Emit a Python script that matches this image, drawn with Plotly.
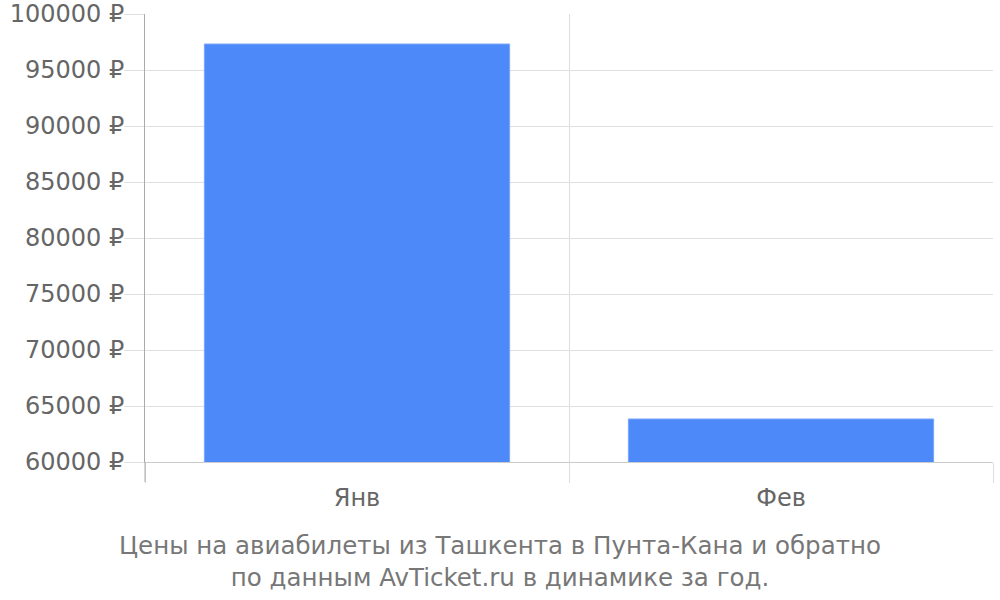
import plotly.graph_objects as go

months = ['Янв', 'Фев']
prices = [97320, 63840]
title_text = 'Цены на авиабилеты из Ташкента в Пунта-Кана и обратно<br>по данным AvTicket.ru в динамике за год.'

fig = go.Figure()

fig.add_trace(go.Bar(
    x=months,
    y=prices,
    width=0.72,
    marker=dict(color='#4d89f9', line=dict(color='#7aa6fb', width=1)),
    showlegend=False,
))

fig.update_layout(
    width=1000,
    height=600,
    margin=dict(l=145, r=7, t=14, b=138),
    paper_bgcolor='white',
    plot_bgcolor='white',
    font=dict(family='DejaVu Sans', size=24, color='#666666'),
    title=dict(
        text=title_text,
        x=0.5, xref='container', xanchor='center',
        y=0.076, yref='container', yanchor='middle',
        font=dict(size=24.5, color='#777777'),
        automargin=False,
    ),
)

# darker continuation of the y axis line below the plot
fig.add_shape(type='line', xref='paper', yref='paper',
              x0=0, x1=0, y0=-20 / 448, y1=0,
              line=dict(color='#aaaaaa', width=1))

fig.update_xaxes(
    type='category',
    tickson='boundaries',
    automargin=False,
    showgrid=True,
    gridcolor='#dddddd',
    ticks='outside',
    ticklen=20,
    tickcolor='#dddddd',
    ticklabelstandoff=14,
    showline=True,
    linecolor='#cccccc',
    tickfont=dict(size=24, color='#666666'),
)

fig.update_yaxes(
    range=[60000, 100000],
    dtick=5000,
    tickformat='d',
    ticksuffix=' ₽',
    automargin=False,
    ticklabeloverflow='allow',
    showgrid=True,
    gridcolor='#e0e0e0',
    ticks='outside',
    ticklen=20,
    tickcolor='#e0e0e0',
    ticklabelstandoff=-5,
    showline=True,
    linecolor='#aaaaaa',
    zeroline=False,
    tickfont=dict(size=24, color='#666666'),
)

# drop the default 8px body margin so the figure fills the window
fig.write_html('out.html', config={'displayModeBar': False},
               post_script="document.body.style.margin='0';")
